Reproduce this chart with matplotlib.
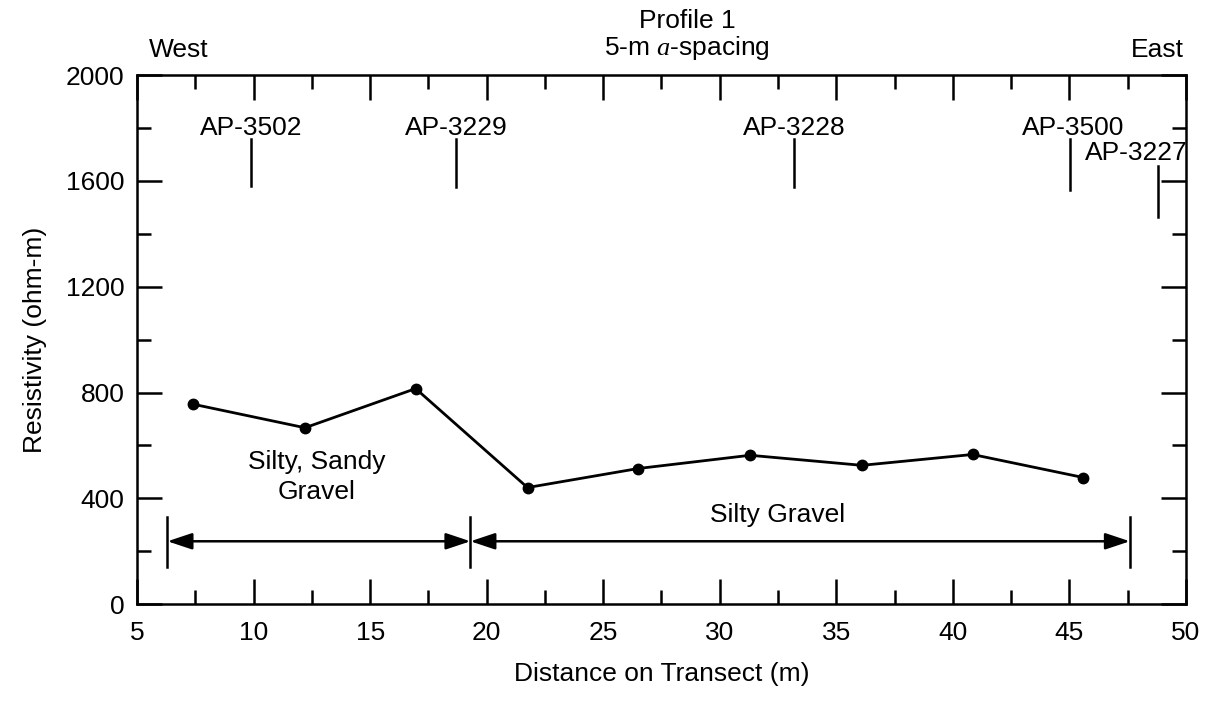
import matplotlib
matplotlib.use("Agg")
import matplotlib.pyplot as plt
from matplotlib.ticker import MultipleLocator

plt.rcParams['font.family'] = ['Liberation Sans', 'DejaVu Sans']
plt.rcParams['mathtext.fontset'] = 'custom'
plt.rcParams['mathtext.it'] = 'Liberation Serif:italic'

FS = 19

# resistivity readings along the transect
distance = [7.4, 12.2, 16.95, 21.75, 26.5, 31.3, 36.1, 40.85, 45.6]
resistivity = [756, 667, 815, 441, 513, 563, 525, 566, 479]

# boreholes: name, position, line bottom/top, label height
wells = ["AP-3502", "AP-3229", "AP-3228", "AP-3500", "AP-3227"]
wellX = [9.9, 18.7, 33.2, 45.05, 48.8]
wellLow = [1580, 1575, 1575, 1565, 1465]
wellHigh = [1760, 1760, 1760, 1760, 1655]
wellLabelY = [1800, 1800, 1800, 1800, 1705]

# soil units
unitEdges = [6.3, 19.3, 47.6]
unitNames = ["Silty, Sandy\nGravel", "Silty Gravel"]
unitTextX = [12.7, 32.5]
unitTextY = [482, 338]

fig = plt.figure(figsize=(12.25, 7.01), dpi=100)
ax = fig.add_axes([0.112, 0.138, 0.856, 0.755])

ax.plot(distance, resistivity, color='black', lw=2, marker='o', ms=7.5)

# borehole markers
for i in range(len(wells)):
    ax.plot([wellX[i], wellX[i]], [wellLow[i], wellHigh[i]], color='black', lw=1.8)
    if wells[i] == "AP-3227":
        ax.text(50.1, wellLabelY[i], wells[i], ha='right', va='center', fontsize=FS)
    elif wells[i] == "AP-3500":
        ax.text(wellX[i] + 0.1, wellLabelY[i], wells[i], ha='center', va='center', fontsize=FS)
    else:
        ax.text(wellX[i], wellLabelY[i], wells[i], ha='center', va='center', fontsize=FS)

# soil unit arrows
for e in unitEdges:
    ax.plot([e, e], [140, 330], color='black', lw=1.8)
for i in range(len(unitNames)):
    ax.annotate("", xy=(unitEdges[i], 238), xytext=(unitEdges[i + 1], 238),
                arrowprops=dict(arrowstyle='<|-|>,head_length=1.5,head_width=0.5',
                                color='black', lw=1.8, shrinkA=0, shrinkB=0))
    ax.text(unitTextX[i], unitTextY[i], unitNames[i], ha='center', va='center',
            fontsize=FS, linespacing=1.3)

ax.set_xlim(5, 50)
ax.set_ylim(0, 2000)
ax.xaxis.set_major_locator(MultipleLocator(5))
ax.xaxis.set_minor_locator(MultipleLocator(2.5))
ax.yaxis.set_major_locator(MultipleLocator(400))
ax.yaxis.set_minor_locator(MultipleLocator(200))
ax.tick_params(which='both', direction='in', top=True, right=True, width=1.8, labelsize=FS)
ax.tick_params(which='major', length=18)
ax.tick_params(which='minor', length=10)
ax.tick_params(axis='x', pad=12)
ax.tick_params(axis='y', pad=9)
for s in ax.spines.values():
    s.set_linewidth(1.8)

ax.set_xlabel("Distance on Transect (m)", fontsize=FS, labelpad=12)
ax.set_ylabel("Resistivity (ohm-m)", fontsize=FS, labelpad=14)

ax.text(6.8, 2050, "West", ha='center', va='bottom', fontsize=FS)
ax.text(48.8, 2050, "East", ha='center', va='bottom', fontsize=FS)
ax.text(28.6, 2050, "Profile 1\n5-m $\\mathit{a}$-spacing", ha='center', va='bottom',
        fontsize=FS, linespacing=1.05)

fig.savefig("out.png", dpi=100)
